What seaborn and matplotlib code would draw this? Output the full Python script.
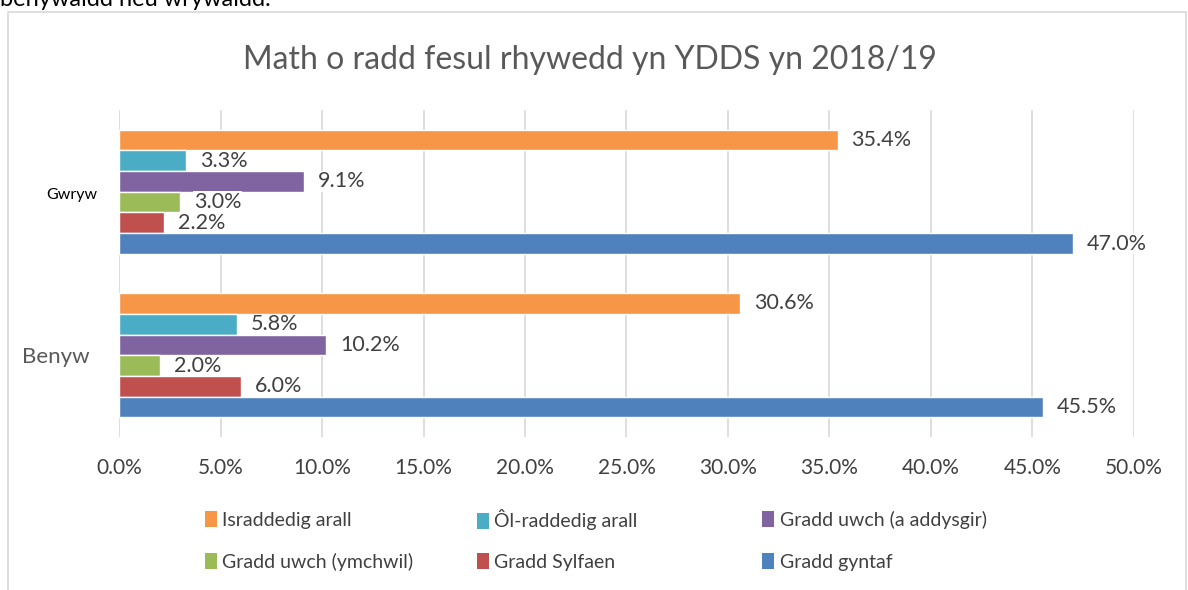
import matplotlib
matplotlib.use("Agg")
import matplotlib.pyplot as plt
import seaborn as sns
import pandas as pd
from matplotlib.patches import Rectangle, Patch
from matplotlib.ticker import FuncFormatter
from matplotlib.transforms import blended_transform_factory, offset_copy

# Data
GENDERS = ["Gwryw", "Benyw"]
DEGREE_TYPES = [
    "Israddedig arall",
    "Ôl-raddedig arall",
    "Gradd uwch (a addysgir)",
    "Gradd uwch (ymchwil)",
    "Gradd Sylfaen",
    "Gradd gyntaf",
]
GWRYW = [35.4, 3.3, 9.1, 3.0, 2.2, 47.0]
BENYW = [30.6, 5.8, 10.2, 2.0, 6.0, 45.5]
COLORS = ["#F79646", "#4BACC6", "#8064A2", "#9BBB59", "#C0504D", "#4F81BD"]

TITLE = "Math o radd fesul rhywedd yn YDDS yn 2018/19"
TEXT_GREY = "#404040"

rows = []
for gender, values in zip(GENDERS, [GWRYW, BENYW]):
    for deg, v in zip(DEGREE_TYPES, values):
        rows.append({"rhywedd": gender, "math": deg, "canran": v})
df = pd.DataFrame(rows)

sns.set_theme(style="white")
plt.rcParams["font.family"] = ["Lato", "DejaVu Sans"]

fig = plt.figure(figsize=(11.88, 5.9), dpi=100)
ax = fig.add_axes([0.1002, 0.2593, 0.8543, 0.5543])

sns.barplot(
    data=df, y="rhywedd", x="canran", hue="math",
    order=GENDERS, hue_order=DEGREE_TYPES,
    palette=COLORS, orient="h", width=0.76, gap=0,
    saturation=1, errorbar=None, legend=False, ax=ax,
)

for container in ax.containers:
    ax.bar_label(container, fmt="%.1f%%", padding=10, fontsize=15.5,
                 color=TEXT_GREY,
                 bbox=dict(facecolor="white", edgecolor="none", pad=0.5))

ax.set_xlim(0, 50)
ax.set_ylim(1.5, -0.5)
ax.set_xticks(range(0, 51, 5))
ax.xaxis.set_major_formatter(FuncFormatter(lambda v, p: f"{v:.1f}%"))
ax.tick_params(axis="x", labelsize=15, labelcolor=TEXT_GREY, length=0, pad=15)
ax.grid(axis="x", color="#D9D9D9", linewidth=1.2)
ax.set_axisbelow(True)
for s in ax.spines.values():
    s.set_visible(False)
ax.set_xlabel("")
ax.set_ylabel("")

# category labels drawn by hand: the two have different sizes and offsets
ytick_pos = ax.get_yticks()
ax.set_yticks(ytick_pos, [""] * len(ytick_pos))
ax.tick_params(axis="y", length=0)
trans = blended_transform_factory(ax.transAxes, ax.transData)
ax.text(0, ytick_pos[0], GENDERS[0], ha="right", va="center", fontsize=11.5,
        color="black",
        transform=offset_copy(trans, fig=fig, x=-22, y=-3, units="dots"))
ax.text(0, ytick_pos[1], GENDERS[1], ha="right", va="center", fontsize=16,
        color="#595959",
        transform=offset_copy(trans, fig=fig, x=-29, y=-2, units="dots"))

fig.text(0.497, 0.898, TITLE, ha="center", va="center", fontsize=23,
         color="#595959")

# legend entries placed one by one in a 3 x 2 grid
handles = [Patch(facecolor=c, edgecolor="none") for c in COLORS]
col_x = [205 / 1188, 477 / 1188, 762 / 1188]
row_y = [1 - 520 / 590, 1 - 562 / 590]
for i, label in enumerate(DEGREE_TYPES):
    fig.legend([handles[i]], [label], loc="center left",
               bbox_to_anchor=(col_x[i % 3], row_y[i // 3]),
               frameon=False, fontsize=14, labelcolor=TEXT_GREY,
               handlelength=0.6, handleheight=0.9, handletextpad=0.3,
               borderpad=0, borderaxespad=0)

# outer chart frame and cut-off text above it
fig.add_artist(Rectangle((8 / 1188, -0.01), 1178 / 1188, 1.01 - 12 / 590,
                         transform=fig.transFigure, fill=False,
                         edgecolor="#D9D9D9", linewidth=1.2))
fig.text(0.0, 1.0, "benywaidd neu wrywaidd.", ha="left", va="center",
         fontsize=17, color="black")

fig.savefig("out.png", dpi=100)
